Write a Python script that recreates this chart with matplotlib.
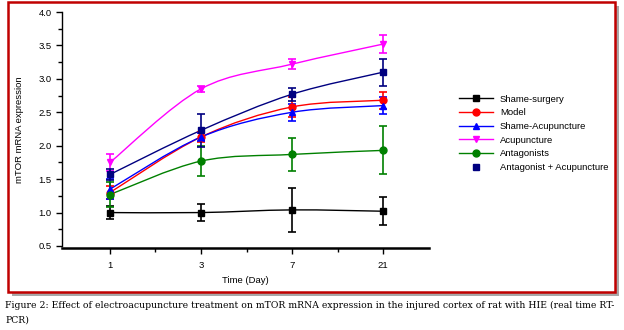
import numpy as np
import matplotlib
matplotlib.use("Agg")
import matplotlib.pyplot as plt
from matplotlib.path import Path
from matplotlib.patches import PathPatch, Rectangle
from matplotlib.lines import Line2D

plt.rcParams["font.family"] = ["Liberation Sans", "DejaVu Sans"]

days = ["1", "3", "7", "21"]
groups = ["Shame-surgery", "Model", "Shame-Acupuncture", "Acupuncture",
          "Antagonists", "Antagonist + Acupuncture"]

sham_surgery = [1.00, 1.00, 1.04, 1.02]
sham_surgery_err = [0.10, 0.13, 0.33, 0.21]
model = [1.30, 2.13, 2.58, 2.68]
model_err = [0.10, 0.08, 0.15, 0.13]
sham_acu = [1.35, 2.13, 2.50, 2.60]
sham_acu_err = [0.15, 0.06, 0.13, 0.13]
acupuncture = [1.75, 2.85, 3.22, 3.52]
acupuncture_err = [0.13, 0.05, 0.08, 0.13]
antagonists = [1.27, 1.77, 1.87, 1.93]
antagonists_err = [0.18, 0.23, 0.25, 0.36]
antag_acu = [1.57, 2.23, 2.77, 3.10]
antag_acu_err = [0.08, 0.25, 0.10, 0.20]

series = [sham_surgery, model, sham_acu, acupuncture, antagonists, antag_acu]
errors = [sham_surgery_err, model_err, sham_acu_err, acupuncture_err,
          antagonists_err, antag_acu_err]
colors = ["black", "#FF0000", "#0000FF", "#FF00FF", "#008000", "#000080"]
markers = ["s", "o", "^", "v", "o", "s"]


def smooth_path(x, y):
    # catmull-rom through the points, drawn as cubic bezier segments
    p = np.column_stack([x, y]).astype(float)
    ext = np.vstack([p[0], p, p[-1]])
    verts = [p[0]]
    codes = [Path.MOVETO]
    for i in range(len(p) - 1):
        p0, p1, p2, p3 = ext[i], ext[i + 1], ext[i + 2], ext[i + 3]
        verts += [p1 + (p2 - p0) / 6, p2 - (p3 - p1) / 6, p2]
        codes += [Path.CURVE4] * 3
    return Path(verts, codes)


fig = plt.figure(figsize=(6.24, 3.30), dpi=100)
fig.patch.set_facecolor("white")

# framed box with shadow
fig.patches.append(Rectangle((12 / 624, 1 - 296 / 330), 607 / 624, 290 / 330,
                             transform=fig.transFigure, facecolor="#A8A8A8",
                             edgecolor="none", zorder=-3))
fig.patches.append(Rectangle((8 / 624, 1 - 292 / 330), 607 / 624, 290 / 330,
                             transform=fig.transFigure, facecolor="white",
                             edgecolor="#C00000", linewidth=1.8, zorder=-2))

ax = fig.add_axes([62 / 624, 82 / 330, 367 / 624, 236 / 330])
ax.patch.set_alpha(0)
x = np.arange(len(days))

handles = []
for vals, err, c, m, name in zip(series, errors, colors, markers, groups):
    ax.add_patch(PathPatch(smooth_path(x, vals), facecolor="none",
                           edgecolor=c, lw=1.0))
    ax.errorbar(x, vals, yerr=err, fmt=m, color=c, ms=5, capsize=3,
                elinewidth=1.2, capthick=1.2)
    ls = "none" if name == groups[-1] else "-"
    handles.append(Line2D([], [], color=c, marker=m, ms=5, lw=1.0, ls=ls))

ax.set_xlim(-0.527, 3.505)
ax.set_ylim(0.47, 4.0)
ax.set_xticks(x)
ax.set_xticklabels(days)
ax.set_xticks([0.5, 1.5, 2.5], minor=True)
ax.set_yticks(np.arange(0.5, 4.01, 0.5))
ax.set_yticks(np.arange(0.75, 4.0, 0.5), minor=True)
ax.yaxis.set_major_formatter(matplotlib.ticker.FormatStrFormatter("%.1f"))
for s in ["top", "right"]:
    ax.spines[s].set_visible(False)
ax.spines["bottom"].set_linewidth(1.8)
ax.spines["left"].set_linewidth(1.0)
ax.spines["left"].set_bounds(0.5, 4.0)
ax.tick_params(axis="both", labelsize=6.8, length=4, width=1)
ax.tick_params(which="minor", length=3, width=1)
ax.tick_params(axis="x", pad=5)
ax.set_xlabel("Time (Day)", fontsize=6.8, labelpad=5)
ax.set_ylabel("mTOR mRNA expression", fontsize=6.8, labelpad=10)

fig.legend(handles, groups, loc="upper left",
           bbox_to_anchor=(450 / 624, 1 - 86 / 330), frameon=False,
           fontsize=6.8, handlelength=3.6, labelspacing=0.5,
           handletextpad=0.8)

fig.text(5 / 624, 1 - 305 / 330,
         "Figure 2: Effect of electroacupuncture treatment on mTOR mRNA "
         "expression in the injured cortex of rat with HIE (real time RT-",
         family="DejaVu Serif", fontsize=6.7, va="center", ha="left")
fig.text(5 / 624, 1 - 320 / 330, "PCR)", family="DejaVu Serif",
         fontsize=6.7, va="center", ha="left")

fig.savefig("out.png", dpi=100)
